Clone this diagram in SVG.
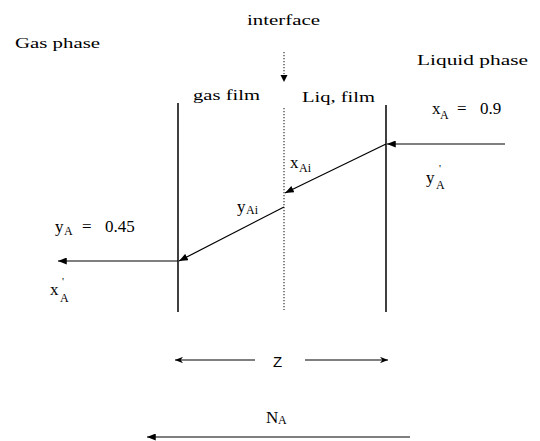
<svg xmlns="http://www.w3.org/2000/svg" width="540" height="441" viewBox="0 0 540 441">
<style>
text{font-family:"Liberation Serif","Times New Roman",serif;font-size:15px;fill:#000}
.v{font-size:17px}
.sub{font-size:12px}
.pr{font-size:11px}
.ln{stroke:#000;stroke-width:1.5;fill:none}
.ar{stroke:#000;stroke-width:1.2;fill:none}
.dot{stroke:#444;stroke-width:1.3;stroke-dasharray:1.2 1.8;fill:none}
</style>
<defs>
<marker id="ah" viewBox="0 0 10 8" refX="10" refY="4" markerWidth="9" markerHeight="7" markerUnits="userSpaceOnUse" orient="auto">
<path d="M0,0 L10,4 L0,8 z" fill="#000"/>
</marker>
<marker id="ahs" viewBox="0 0 10 8" refX="10" refY="4" markerWidth="8" markerHeight="6.4" markerUnits="userSpaceOnUse" orient="auto">
<path d="M0,0 L10,4 L0,8 L3,4 z" fill="#000"/>
</marker>
</defs>

<g id="labels">
<text x="247" y="25" textLength="73" lengthAdjust="spacingAndGlyphs">interface</text>
<text x="15" y="48" textLength="85" lengthAdjust="spacingAndGlyphs">Gas phase</text>
<text x="417" y="65" textLength="111" lengthAdjust="spacingAndGlyphs">Liquid phase</text>
<text x="193" y="100" textLength="67" lengthAdjust="spacingAndGlyphs">gas film</text>
<text x="302" y="102" textLength="73" lengthAdjust="spacingAndGlyphs">Liq, film</text>
</g>

<g id="interface">
<line class="dot" x1="284" y1="52" x2="284" y2="74"/>
<path d="M280.5,75 L287.5,75 L284,82 z" fill="#000"/>
<line class="dot" x1="284" y1="108" x2="284" y2="310"/>
</g>

<g id="gas-film-boundary">
<line class="ln" x1="178" y1="103" x2="178" y2="312"/>
</g>
<g id="liquid-film-boundary">
<line class="ln" x1="386" y1="105" x2="386" y2="312"/>
</g>

<g id="connectors">
<line class="ar" x1="505" y1="144" x2="387" y2="144" marker-end="url(#ah)"/>
<line class="ar" x1="386" y1="144" x2="285" y2="193" marker-end="url(#ah)"/>
<line class="ar" x1="284" y1="207" x2="179" y2="261" marker-end="url(#ah)"/>
<line class="ar" x1="178" y1="261" x2="58" y2="261" marker-end="url(#ah)"/>
<line class="ar" x1="255" y1="360" x2="175" y2="360" marker-end="url(#ahs)"/>
<line class="ar" x1="305" y1="360" x2="388" y2="360" marker-end="url(#ahs)"/>
<line class="ar" x1="410" y1="437" x2="147" y2="437" marker-end="url(#ah)"/>
</g>

<g id="values">
<text class="v" x="432" y="114">x<tspan class="sub" x="440" y="119">A</tspan><tspan x="457" y="114">=</tspan><tspan x="480" y="114">0.9</tspan></text>
<text class="v" x="426" y="183">y<tspan class="pr" x="439" y="172">'</tspan><tspan class="sub" x="436" y="189">A</tspan></text>
<text class="v" x="290" y="168">x<tspan class="sub" x="299" y="172">Ai</tspan></text>
<text class="v" x="237" y="212">y<tspan class="sub" x="246" y="214">Ai</tspan></text>
<text class="v" x="55" y="232">y<tspan class="sub" x="64" y="235">A</tspan><tspan x="82" y="232">=</tspan><tspan x="105" y="232">0.45</tspan></text>
<text class="v" x="50" y="295">x<tspan class="pr" x="62" y="285">'</tspan><tspan class="sub" x="60" y="302">A</tspan></text>
<text x="273" y="367" style="font-family:'Liberation Sans',Arial,sans-serif;font-size:15px">Z</text>
<text class="v" x="266" y="423">N<tspan class="sub" x="278" y="424">A</tspan></text>
</g>
</svg>
